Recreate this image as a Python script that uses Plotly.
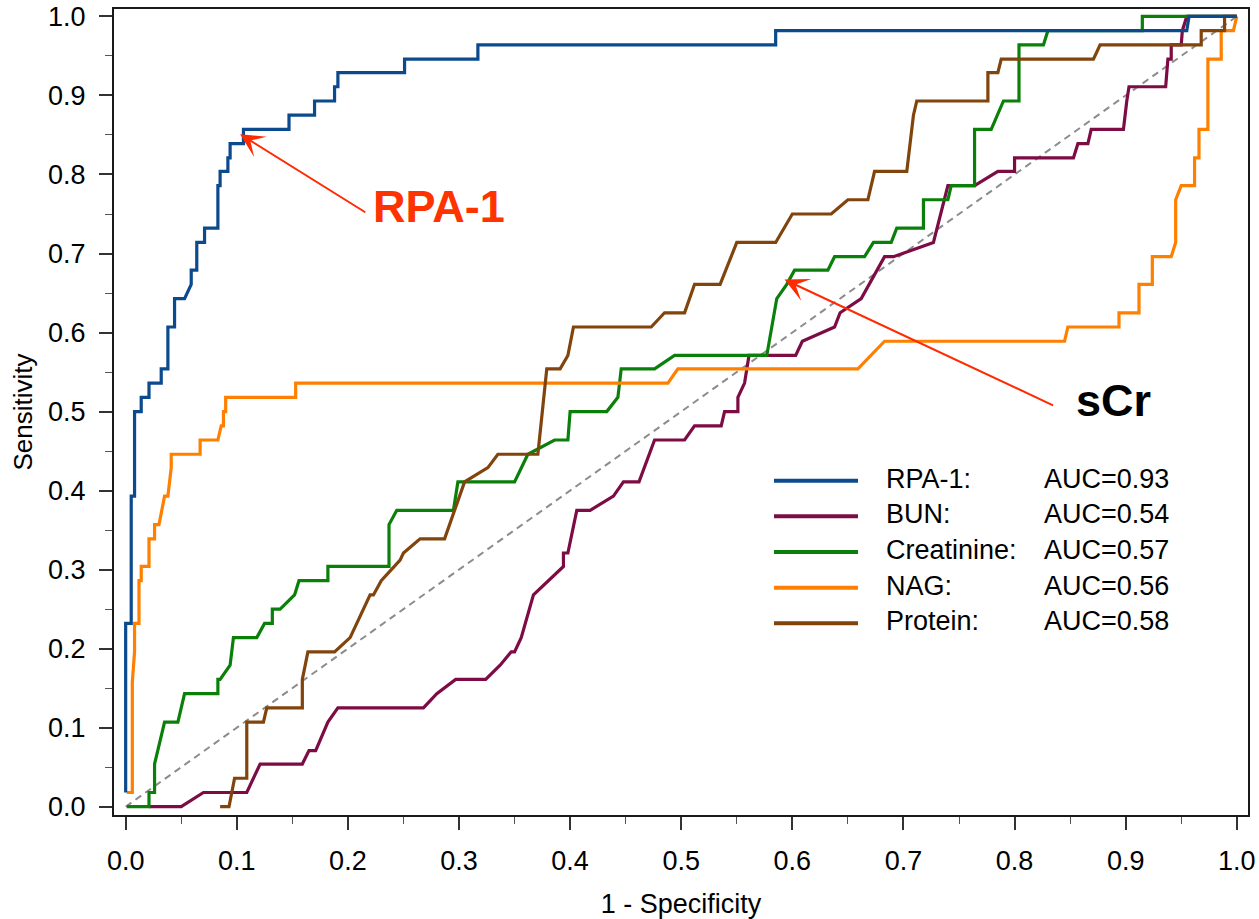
import plotly.graph_objects as go

# ROC curve vertices: x = 1 - specificity, y = sensitivity
rpa1_x = [0.000, 0.000, 0.005, 0.005, 0.008, 0.008, 0.014, 0.014, 0.021, 0.021,
          0.032, 0.032, 0.038, 0.038, 0.044, 0.044, 0.053, 0.059, 0.059, 0.064,
          0.064, 0.071, 0.071, 0.083, 0.083, 0.085, 0.085, 0.092, 0.092, 0.094,
          0.094, 0.106, 0.106, 0.147, 0.147, 0.170, 0.170, 0.188, 0.188, 0.191,
          0.191, 0.251, 0.251, 0.317, 0.317, 0.585, 0.585, 0.955, 0.957, 1.000]
rpa1_y = [0.018, 0.232, 0.232, 0.393, 0.393, 0.500, 0.500, 0.518, 0.518, 0.536,
          0.536, 0.554, 0.554, 0.607, 0.607, 0.643, 0.643, 0.661, 0.679, 0.679,
          0.714, 0.714, 0.732, 0.732, 0.786, 0.786, 0.804, 0.804, 0.821, 0.821,
          0.839, 0.839, 0.857, 0.857, 0.875, 0.875, 0.893, 0.893, 0.911, 0.911,
          0.929, 0.929, 0.946, 0.946, 0.964, 0.964, 0.982, 0.982, 1.000, 1.000]

bun_x = [0.021, 0.050, 0.070, 0.109, 0.121, 0.159, 0.165, 0.171, 0.182, 0.191,
         0.268, 0.280, 0.297, 0.324, 0.337, 0.347, 0.350, 0.356, 0.367, 0.380,
         0.394, 0.394, 0.398, 0.406, 0.418, 0.439, 0.448, 0.462, 0.476, 0.503,
         0.512, 0.536, 0.539, 0.551, 0.551, 0.557, 0.561, 0.603, 0.609, 0.638,
         0.643, 0.662, 0.683, 0.691, 0.727, 0.740, 0.764, 0.785, 0.800, 0.800,
         0.853, 0.857, 0.866, 0.869, 0.898, 0.901, 0.903, 0.936, 0.938, 0.941,
         0.941, 0.950, 0.951, 0.955, 1.000]
bun_y = [0.000, 0.000, 0.018, 0.018, 0.054, 0.054, 0.071, 0.071, 0.107, 0.125,
         0.125, 0.143, 0.161, 0.161, 0.179, 0.196, 0.196, 0.214, 0.268, 0.286,
         0.304, 0.321, 0.321, 0.375, 0.375, 0.393, 0.411, 0.411, 0.464, 0.464,
         0.482, 0.482, 0.500, 0.500, 0.518, 0.536, 0.571, 0.571, 0.589, 0.607,
         0.625, 0.643, 0.696, 0.696, 0.714, 0.786, 0.786, 0.804, 0.804, 0.821,
         0.821, 0.839, 0.839, 0.857, 0.857, 0.893, 0.911, 0.911, 0.946, 0.946,
         0.964, 0.964, 0.982, 1.000, 1.000]

creat_x = [0.001, 0.021, 0.021, 0.026, 0.026, 0.035, 0.047, 0.053, 0.083, 0.083,
           0.085, 0.094, 0.097, 0.118, 0.125, 0.132, 0.132, 0.139, 0.152, 0.156,
           0.182, 0.182, 0.237, 0.237, 0.244, 0.295, 0.299, 0.350, 0.362, 0.386,
           0.398, 0.400, 0.433, 0.443, 0.446, 0.476, 0.494, 0.577, 0.586, 0.595,
           0.602, 0.632, 0.638, 0.665, 0.673, 0.689, 0.694, 0.718, 0.718, 0.740,
           0.743, 0.764, 0.764, 0.779, 0.790, 0.804, 0.804, 0.826, 0.830, 0.915,
           0.915, 1.000]
creat_y = [0.000, 0.000, 0.018, 0.018, 0.054, 0.107, 0.107, 0.143, 0.143, 0.161,
           0.161, 0.179, 0.214, 0.214, 0.232, 0.232, 0.250, 0.250, 0.268, 0.286,
           0.286, 0.304, 0.304, 0.357, 0.375, 0.375, 0.411, 0.411, 0.446, 0.464,
           0.464, 0.500, 0.500, 0.518, 0.554, 0.554, 0.571, 0.571, 0.643, 0.661,
           0.679, 0.679, 0.696, 0.696, 0.714, 0.714, 0.732, 0.732, 0.768, 0.768,
           0.786, 0.786, 0.857, 0.857, 0.893, 0.893, 0.964, 0.964, 0.982, 0.982,
           1.000, 1.000]

nag_x = [0.001, 0.006, 0.006, 0.008, 0.008, 0.012, 0.012, 0.014, 0.014, 0.021,
         0.021, 0.026, 0.026, 0.030, 0.035, 0.038, 0.041, 0.041, 0.067, 0.067,
         0.083, 0.086, 0.088, 0.088, 0.090, 0.090, 0.153, 0.153, 0.488, 0.497,
         0.659, 0.683, 0.845, 0.848, 0.894, 0.894, 0.912, 0.912, 0.924, 0.924,
         0.941, 0.945, 0.945, 0.950, 0.962, 0.962, 0.966, 0.966, 0.974, 0.974,
         0.986, 0.986, 0.997, 1.000]
nag_y = [0.018, 0.018, 0.158, 0.196, 0.232, 0.232, 0.286, 0.286, 0.304, 0.304,
         0.339, 0.339, 0.357, 0.357, 0.393, 0.393, 0.429, 0.446, 0.446, 0.464,
         0.464, 0.482, 0.482, 0.500, 0.500, 0.518, 0.518, 0.536, 0.536, 0.554,
         0.554, 0.589, 0.589, 0.607, 0.607, 0.625, 0.625, 0.661, 0.661, 0.696,
         0.696, 0.714, 0.768, 0.786, 0.786, 0.821, 0.821, 0.857, 0.857, 0.946,
         0.946, 0.982, 0.982, 1.000]

prot_x = [0.085, 0.093, 0.098, 0.109, 0.109, 0.124, 0.127, 0.159, 0.159, 0.164,
          0.188, 0.202, 0.220, 0.223, 0.230, 0.247, 0.250, 0.265, 0.287, 0.305,
          0.326, 0.335, 0.371, 0.379, 0.391, 0.398, 0.403, 0.473, 0.485, 0.503,
          0.512, 0.535, 0.550, 0.585, 0.600, 0.635, 0.650, 0.668, 0.674, 0.703,
          0.709, 0.712, 0.776, 0.776, 0.785, 0.788, 0.871, 0.877, 0.968, 0.968,
          0.989, 0.989, 1.000]
prot_y = [0.000, 0.000, 0.036, 0.036, 0.107, 0.107, 0.125, 0.125, 0.161, 0.196,
          0.196, 0.214, 0.268, 0.268, 0.286, 0.312, 0.321, 0.339, 0.339, 0.411,
          0.429, 0.446, 0.446, 0.554, 0.554, 0.571, 0.607, 0.607, 0.625, 0.625,
          0.661, 0.661, 0.714, 0.714, 0.750, 0.750, 0.768, 0.768, 0.804, 0.804,
          0.875, 0.893, 0.893, 0.929, 0.929, 0.946, 0.946, 0.964, 0.964, 0.982,
          0.982, 1.000, 1.000]

# Legend entries
marker_names = ["RPA-1:", "BUN:", "Creatinine:", "NAG:", "Protein:"]
auc_values = [0.93, 0.54, 0.57, 0.56, 0.58]
line_colors = ["#0b4a8c", "#7d0c45", "#0a800a", "#ff8000", "#80440c"]

curves = {
    "RPA-1": (rpa1_x, rpa1_y),
    "BUN": (bun_x, bun_y),
    "Creatinine": (creat_x, creat_y),
    "NAG": (nag_x, nag_y),
    "Protein": (prot_x, prot_y),
}
color_of = dict(zip(curves.keys(), line_colors))

FONT = "Liberation Sans, Arial, sans-serif"

# plot frame in page pixels
W, H = 1259, 919
PL, PR, PT, PB = 114, 1248, 9, 815


def px_x(p):
    return (p - PL) / (PR - PL)


def px_y(p):
    return (PB - p) / (PB - PT)


fig = go.Figure()

# chance line
fig.add_trace(go.Scatter(x=[0, 1], y=[0, 1], mode="lines",
                         line=dict(color="#8c8c8c", width=2, dash="7px,5px"),
                         showlegend=False, hoverinfo="skip"))

for name in ["BUN", "Creatinine", "NAG", "Protein", "RPA-1"]:
    xs, ys = curves[name]
    fig.add_trace(go.Scatter(x=xs, y=ys, mode="lines", name=name,
                             line=dict(color=color_of[name], width=3.2),
                             showlegend=False))

shapes = []
annotations = []

# hand-drawn legend block
row0, row_step = 480.7, 35.65
for i, (lab, auc, col) in enumerate(zip(marker_names, auc_values, line_colors)):
    yc = row0 + i * row_step
    shapes.append(dict(type="line", xref="paper", yref="paper",
                       x0=px_x(774), x1=px_x(858), y0=px_y(yc), y1=px_y(yc),
                       line=dict(color=col, width=4)))
    annotations.append(dict(xref="paper", yref="paper", x=px_x(884), y=px_y(yc - 2),
                            text=lab, showarrow=False, xanchor="left", yanchor="middle",
                            font=dict(family=FONT, size=27, color="#000")))
    annotations.append(dict(xref="paper", yref="paper", x=px_x(1042), y=px_y(yc - 2),
                            text=f"AUC={auc:.2f}", showarrow=False, xanchor="left",
                            yanchor="middle",
                            font=dict(family=FONT, size=27, color="#000")))

# callout arrows
arrow_red = "#ff2a00"
annotations.append(dict(x=0.103, y=0.851, ax=0.217, ay=0.751, xref="x", yref="y",
                        axref="x", ayref="y", text="", showarrow=True,
                        arrowhead=3, arrowsize=2, arrowwidth=2, arrowcolor=arrow_red))
annotations.append(dict(x=0.593, y=0.667, ax=0.836, ay=0.507, xref="x", yref="y",
                        axref="x", ayref="y", text="", showarrow=True,
                        arrowhead=3, arrowsize=2, arrowwidth=2, arrowcolor=arrow_red))
annotations.append(dict(xref="paper", yref="paper", x=px_x(371), y=px_y(206),
                        text="<b>RPA-1</b>", showarrow=False, xanchor="left",
                        yanchor="middle",
                        font=dict(family=FONT, size=45, color="#ff3300")))
annotations.append(dict(xref="paper", yref="paper", x=px_x(1074), y=px_y(400),
                        text="<b>sCr</b>", showarrow=False, xanchor="left",
                        yanchor="middle",
                        font=dict(family=FONT, size=45, color="#000")))

axis_common = dict(
    showline=True, linecolor="#1a1a1a", linewidth=2, mirror=True,
    showgrid=False, zeroline=False,
    ticks="outside", ticklen=13, tickwidth=1.5, tickcolor="#333",
    tickfont=dict(family=FONT, size=27, color="#000"),
    dtick=0.1, tick0=0, tickformat=".1f",
    minor=dict(ticks="outside", ticklen=7, tickwidth=1.2, tickcolor="#555",
               dtick=0.05, tick0=0, showgrid=False),
)

fig.update_xaxes(range=[-0.0105, 1.0101],
                 title=dict(text="1 - Specificity", standoff=19,
                            font=dict(family=FONT, size=27, color="#000")),
                 ticklabelstandoff=8, **axis_common)
fig.update_yaxes(range=[-0.0105, 1.0094],
                 title=dict(text="Sensitivity", standoff=8,
                            font=dict(family=FONT, size=26, color="#000")),
                 ticklabelstandoff=8, **axis_common)

fig.update_layout(
    width=W, height=H,
    margin=dict(l=PL, r=W - PR, t=PT, b=H - PB, autoexpand=False),
    paper_bgcolor="white", plot_bgcolor="white",
    shapes=shapes, annotations=annotations,
    showlegend=False,
)

fig.write_html("out.html")
